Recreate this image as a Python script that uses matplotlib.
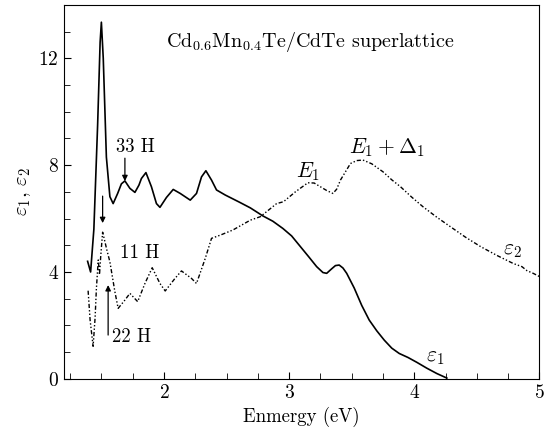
import numpy as np
import matplotlib
matplotlib.use("Agg")
import matplotlib.pyplot as plt

plt.rcParams['font.family'] = 'cmr10'
plt.rcParams['mathtext.fontset'] = 'cm'
plt.rcParams['axes.formatter.use_mathtext'] = True

# eps1 (solid)
e1_x = [1.39, 1.414, 1.44, 1.47, 1.49, 1.50, 1.515, 1.54, 1.568, 1.594, 1.63, 1.66, 1.688,
        1.728, 1.768, 1.80, 1.82, 1.856, 1.90, 1.94, 1.968, 2.02, 2.074, 2.13, 2.21,
        2.26, 2.30, 2.335, 2.38, 2.42, 2.49, 2.60, 2.69, 2.79, 2.87, 2.95, 3.02, 3.09,
        3.16, 3.22, 3.27, 3.30, 3.34, 3.37, 3.40, 3.43, 3.46, 3.52, 3.58, 3.64, 3.70, 3.76,
        3.82, 3.88, 3.95, 4.02, 4.10, 4.18, 4.26]
e1_y = [4.4, 4.0, 5.6, 9.5, 12.6, 13.35, 12.0, 8.3, 6.82, 6.56, 6.94, 7.3, 7.41,
        7.13, 6.98, 7.25, 7.5, 7.72, 7.19, 6.56, 6.42, 6.79, 7.09, 6.94, 6.69,
        6.94, 7.56, 7.79, 7.44, 7.07, 6.88, 6.62, 6.4, 6.1, 5.9, 5.63, 5.35, 4.95,
        4.55, 4.2, 3.98, 3.95, 4.12, 4.24, 4.26, 4.15, 3.95, 3.4, 2.75, 2.2, 1.8, 1.45,
        1.15, 0.95, 0.8, 0.62, 0.4, 0.2, 0.03]

# eps2 (dash-dot)
e2_x = [1.394, 1.41, 1.434, 1.45, 1.46, 1.475, 1.485, 1.495, 1.51, 1.525, 1.545, 1.568,
        1.608, 1.634, 1.688, 1.728, 1.79, 1.848, 1.906, 1.968, 2.01, 2.088, 2.14, 2.22,
        2.26, 2.33, 2.38, 2.45, 2.55, 2.69, 2.77, 2.90, 2.955, 3.05, 3.15, 3.20, 3.25,
        3.30, 3.35, 3.38, 3.41, 3.45, 3.49, 3.54, 3.59, 3.66, 3.75, 3.82, 3.89, 3.98,
        4.07, 4.18, 4.29, 4.41, 4.53, 4.66, 4.79, 4.86, 4.90, 4.95, 5.0]
e2_y = [3.3, 2.2, 1.22, 2.3, 3.36, 4.45, 3.9, 4.6, 5.49, 5.2, 4.8, 4.38,
        3.26, 2.64, 2.95, 3.2, 2.89, 3.57, 4.16, 3.57, 3.29, 3.76, 4.04, 3.76,
        3.57, 4.51, 5.26, 5.38, 5.57, 5.94, 6.07, 6.56, 6.63, 7.0, 7.34, 7.33, 7.19,
        7.05, 6.94, 7.1, 7.44, 7.75, 8.06, 8.17, 8.19, 8.05, 7.75, 7.45, 7.19, 6.8,
        6.44, 6.05, 5.69, 5.3, 4.95, 4.62, 4.32, 4.2, 4.05, 3.95, 3.83]

fig = plt.figure(figsize=(5.55, 4.38), dpi=100)
ax = fig.add_axes([0.115, 0.135, 0.857, 0.854])

ax.plot(e1_x, e1_y, color='black', lw=1.2)
ax.plot(e2_x, e2_y, color='black', lw=1.0, linestyle=(0, (3, 1.5, 1, 1.5, 1, 1.5)))

ax.set_xlim(1.2, 5.0)
ax.set_ylim(0, 14)
ax.set_xticks([2, 3, 4, 5])
ax.set_xticks(np.arange(1.25, 5.0, 0.25), minor=True)
ax.set_yticks([0, 4, 8, 12])
ax.set_yticks(np.arange(0, 14, 1), minor=True)
ax.tick_params(direction='in', which='both', labelsize=14, top=False, right=False)
ax.tick_params(which='major', length=5)
ax.tick_params(which='minor', length=4)

ax.set_xlabel('Enmergy (eV)', fontsize=13.5)
ax.set_ylabel(r'$\varepsilon_1,\,\varepsilon_2$', fontsize=15, labelpad=4)

fs = 13.5
ms = 15.5
ax.text(2.02, 12.6, r'Cd$_{0.6}$Mn$_{0.4}$Te/CdTe superlattice', fontsize=14.5, va='center')
ax.text(3.15, 7.74, r'$E_1$', fontsize=ms, ha='center', va='center')
ax.text(3.78, 8.67, r'$E_1+\mathit{\Delta}_1$', fontsize=ms, ha='center', va='center')
ax.text(4.78, 4.8, r'$\varepsilon_2$', fontsize=ms, ha='center', va='center')
ax.text(4.17, 0.82, r'$\varepsilon_1$', fontsize=ms, ha='center', va='center')

arw = dict(arrowstyle='-|>', color='black', lw=0.9, mutation_scale=8, shrinkA=0, shrinkB=0)
ax.annotate('', xy=(1.688, 7.4), xytext=(1.688, 8.26), arrowprops=arw)
ax.text(1.62, 8.67, '33 H', fontsize=fs, va='center')
ax.annotate('', xy=(1.51, 5.83), xytext=(1.51, 6.84), arrowprops=arw)
ax.text(1.645, 4.7, '11 H', fontsize=fs, va='center')
ax.annotate('', xy=(1.554, 3.51), xytext=(1.554, 1.64), arrowprops=arw)
ax.text(1.585, 1.57, '22 H', fontsize=fs, va='center')

fig.savefig('out.png', dpi=100)
